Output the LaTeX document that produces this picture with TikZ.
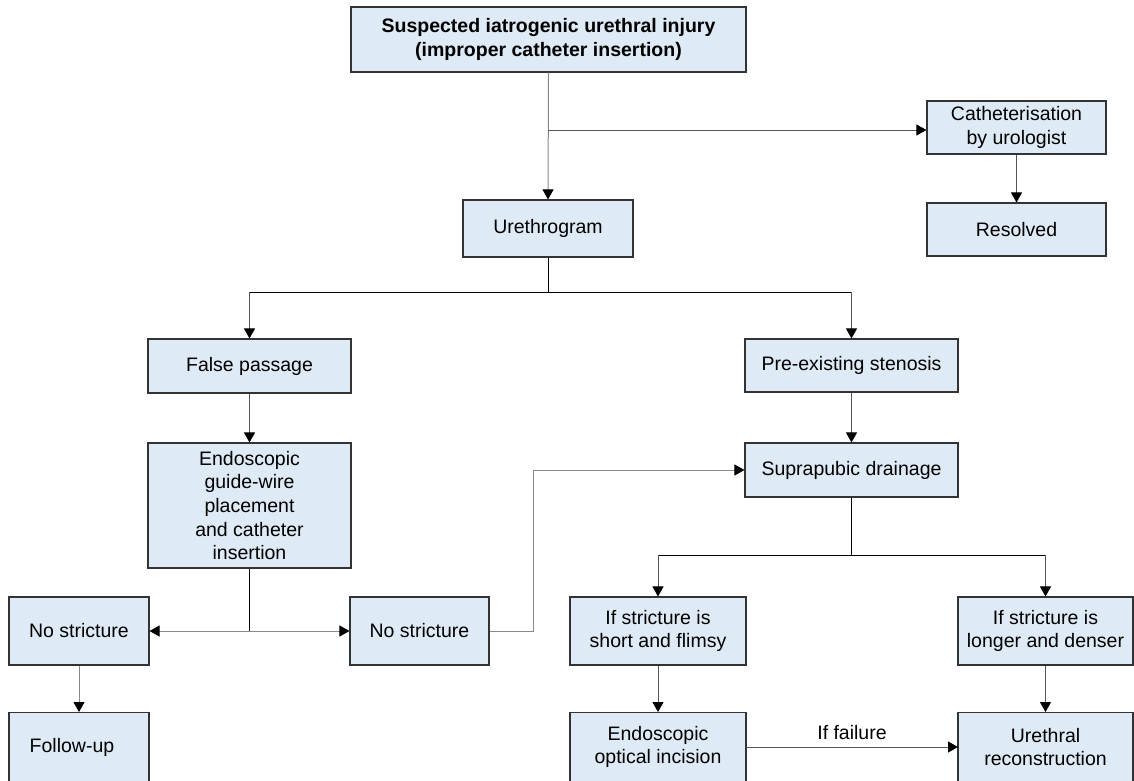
\documentclass[tikz,border=0pt]{standalone}
\usepackage{fontspec}
\setmainfont{Liberation Sans}
\usetikzlibrary{arrows.meta}
\definecolor{boxfill}{HTML}{DEEAF5}
\definecolor{boxline}{HTML}{333333}
\definecolor{lgray}{HTML}{8A8A8A}
\definecolor{dgray}{HTML}{555555}
\tikzset{
  box/.style={draw=boxline, line width=1.1pt, fill=boxfill, inner sep=0pt, align=center,
    font=\fontsize{19.5}{23.7}\selectfont, text=black},
  conn/.style={draw=dgray, line width=1pt},
  stem/.style={draw=black, line width=1pt},
  faint/.style={draw=lgray, line width=1pt},
  arr/.style={-{Triangle[length=10pt,width=11pt,black]}},
}
\begin{document}
\begin{tikzpicture}[x=1pt,y=-1pt]
\useasboundingbox (0,0) rectangle (1134,780);
\clip (0,0) rectangle (1134,780);
\fill[white] (0,0) rectangle (1134,780);
% boxes
\node[box, minimum width=395pt, minimum height=65pt, font=\fontsize{19.5}{23.7}\selectfont\bfseries] (top) at (548.5,39.5) {Suspected iatrogenic urethral injury\\(improper catheter insertion)};
\node[box, minimum width=179pt, minimum height=53pt] (cath) at (1016.5,127.5) {Catheterisation\\by urologist};
\node[box, minimum width=179pt, minimum height=53pt] (res) at (1016.5,229.5) {Resolved};
\node[box, minimum width=170pt, minimum height=57pt] (ureth) at (548,228.5) {Urethrogram};
\node[box, minimum width=203pt, minimum height=54pt] (fp) at (249.5,366) {False passage};
\node[box, minimum width=213pt, minimum height=53pt] (pre) at (851.5,365.5) {Pre-existing stenosis};
\node[box, minimum width=203pt, minimum height=125pt] (endo) at (249.5,505.5) {Endoscopic\\guide-wire\\placement\\and catheter\\insertion};
\node[box, minimum width=213pt, minimum height=54pt] (supra) at (851.5,470) {Suprapubic drainage};
\node[box, minimum width=140pt, minimum height=68pt] (ns1) at (79,631) {No stricture};
\node[box, minimum width=139pt, minimum height=68pt] (ns2) at (419.5,631) {No stricture};
\node[box, minimum width=176pt, minimum height=68pt] (short) at (658,631) {If stricture is\\short and flimsy};
\node[box, minimum width=175pt, minimum height=68pt] (longer) at (1045.5,631) {If stricture is\\longer and denser};
\node[box, minimum width=140pt, minimum height=80pt, anchor=north] (follow) at (79,712) {};
\node[anchor=center, font=\fontsize{19.5}{23.7}\selectfont] (followtxt) at (72,747) {Follow-up};
\node[box, minimum width=176pt, minimum height=80pt, anchor=north] (eoi) at (658,712) {};
\node[align=center, font=\fontsize{19.5}{23.7}\selectfont] (eoitxt) at (658,747) {Endoscopic\\optical incision};
\node[box, minimum width=175pt, minimum height=80pt, anchor=north] (ur) at (1045.5,712) {};
\node[align=center, font=\fontsize{19.5}{23.7}\selectfont] (urtxt) at (1045.5,747) {Urethral\\reconstruction};
% junction coordinates
\coordinate (j1) at (548,130);
\coordinate (j2) at (548,292);
\coordinate (j2l) at (249.5,292);
\coordinate (j2r) at (851.5,292);
\coordinate (j3) at (249.5,631);
\coordinate (j4a) at (533,631);
\coordinate (j4b) at (533,470);
\coordinate (j5) at (851.5,555);
\coordinate (j5l) at (658,555);
\coordinate (j5r) at (1045.5,555);
\coordinate (fl) at (746,747);
\coordinate (fr) at (958,747);
% connectors
\draw[faint, arr] (top.south) -- (ureth.north);
\draw[conn, arr] (j1) -- (j1 -| cath.west);
\draw[conn, arr] (cath.south) -- (res.north);
\draw[stem] (ureth.south) -- (j2);
\draw[stem] (j2l) -- (j2r);
\draw[conn, arr] (j2l) -- (fp.north);
\draw[conn, arr] (j2r) -- (pre.north);
\draw[conn, arr] (fp.south) -- (endo.north);
\draw[conn, arr] (pre.south) -- (supra.north);
\draw[stem] (endo.south) -- (j3);
\draw[faint, arr] (j3) -- (ns1.east);
\draw[faint, arr] (j3) -- (ns2.west);
\draw[faint, arr] (ns1.south) -- (follow.north);
\draw[faint, arr] (ns2.east) -- (j4a) -- (j4b) -- (supra.west);
\draw[stem] (supra.south) -- (j5);
\draw[stem] (j5l) -- (j5r);
\draw[conn, arr] (j5l) -- (short.north);
\draw[conn, arr] (j5r) -- (longer.north);
\draw[conn, arr] (short.south) -- (eoi.north);
\draw[conn, arr] (longer.south) -- (ur.north);
\draw[conn, arr] (fl) -- node[above=3pt, font=\fontsize{19.5}{23.7}\selectfont, text=black] {If failure} (fr);
\end{tikzpicture}
\end{document}
